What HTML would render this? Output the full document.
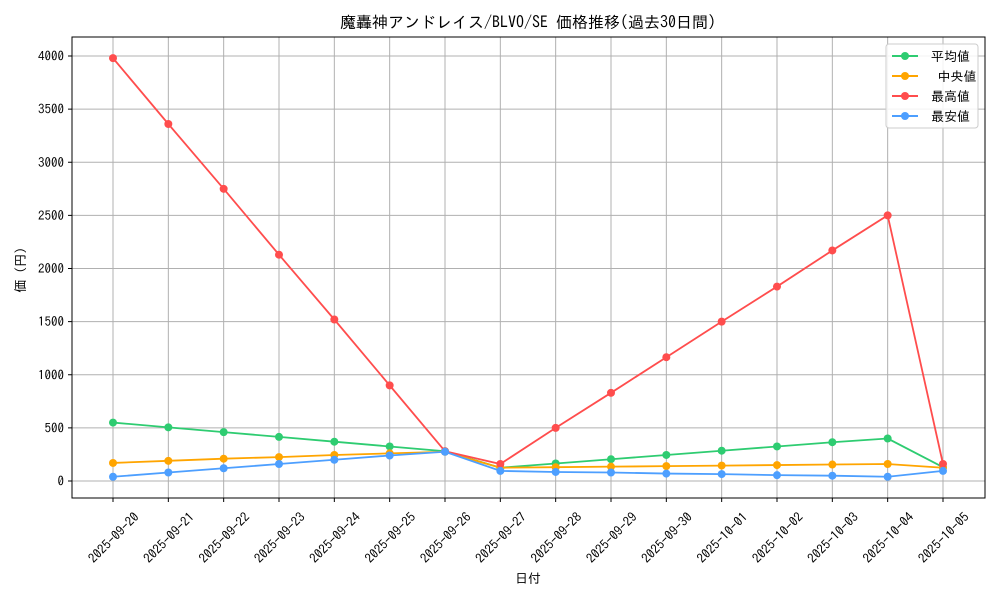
<!DOCTYPE html>
<html><head><meta charset="utf-8"><style>
html,body{margin:0;padding:0;background:#fff;}
svg text{font-family:"IPAGothic","Noto Sans CJK JP",sans-serif;fill:#000;}
</style></head><body>
<svg id="s" width="1000" height="600" xmlns="http://www.w3.org/2000/svg">
<rect width="1000" height="600" fill="#fff"/>
<text x="528" y="28" font-size="16" text-anchor="middle">魔轟神アンドレイス/BLVO/SE 価格推移(過去30日間)</text>
<text x="528" y="583" font-size="13" text-anchor="middle">日付</text>
<text x="0" y="0" font-size="13" text-anchor="middle" transform="translate(25,270) rotate(-90)">価 (円)</text>
<g id="g"></g>
<rect x="72" y="37" width="913" height="461" fill="none" stroke="#000" stroke-width="1"/>
<g font-size="13">
<rect x="886" y="44" width="92" height="84" rx="3" fill="#fff" fill-opacity="0.85" stroke="#ccc"/>
<line x1="892" y1="56" x2="918" y2="56" stroke="#2ecc71" stroke-width="2"/><circle cx="905" cy="56" r="4" fill="#2ecc71"/><text x="931" y="61">平均値</text>
<line x1="892" y1="76" x2="918" y2="76" stroke="#ffa500" stroke-width="2"/><circle cx="905" cy="76" r="4" fill="#ffa500"/><text x="931" y="81">&#160;中央値</text>
<line x1="892" y1="96" x2="918" y2="96" stroke="#ff4d4d" stroke-width="2"/><circle cx="905" cy="96" r="4" fill="#ff4d4d"/><text x="931" y="101">最高値</text>
<line x1="892" y1="116" x2="918" y2="116" stroke="#4d9fff" stroke-width="2"/><circle cx="905" cy="116" r="4" fill="#4d9fff"/><text x="931" y="121">最安値</text>
</g>
</svg>
<script>
var g=document.getElementById('g'),h='';
function X(i){return 113+i*55.333;}
function Y(v){return 481-v*0.10625;}
for(var v=0;v<=4000;v+=500){var y=Y(v);h+='<line x1="72" x2="985" y1="'+y+'" y2="'+y+'" stroke="#b0b0b0" stroke-width="1"/><line x1="68" x2="72" y1="'+y+'" y2="'+y+'" stroke="#000"/><text x="64" y="'+(y+4.5)+'" font-size="13" text-anchor="end">'+v+'</text>';}
var d=['09-20','09-21','09-22','09-23','09-24','09-25','09-26','09-27','09-28','09-29','09-30','10-01','10-02','10-03','10-04','10-05'];
for(var i=0;i<16;i++){var x=X(i);h+='<line y1="37" y2="498" x1="'+x+'" x2="'+x+'" stroke="#b0b0b0"/><line y1="498" y2="502" x1="'+x+'" x2="'+x+'" stroke="#000"/><text font-size="13" text-anchor="middle" transform="translate('+(x+1)+',538) rotate(-45)" dy="4">2025-'+d[i]+'</text>';}
var S=[
['#2ecc71',[550,505,460,415,370,325,280,125,165,205,245,285,325,365,400,130]],
['#ffa500',[170,190,210,225,245,260,275,125,130,135,140,145,150,155,160,125]],
['#ff4d4d',[3980,3360,2750,2130,1520,900,280,160,500,830,1165,1500,1830,2170,2500,160]],
['#4d9fff',[40,80,120,160,200,240,275,95,85,80,70,65,55,50,40,95]]];
S.forEach(function(s){var p='';s[1].forEach(function(v,i){p+=X(i)+','+Y(v)+' ';});
h+='<polyline points="'+p+'" fill="none" stroke="'+s[0]+'" stroke-width="1.8"/>';
s[1].forEach(function(v,i){h+='<circle cx="'+X(i)+'" cy="'+Y(v)+'" r="4" fill="'+s[0]+'"/>';});});
g.innerHTML=h;
</script>
</body></html>
